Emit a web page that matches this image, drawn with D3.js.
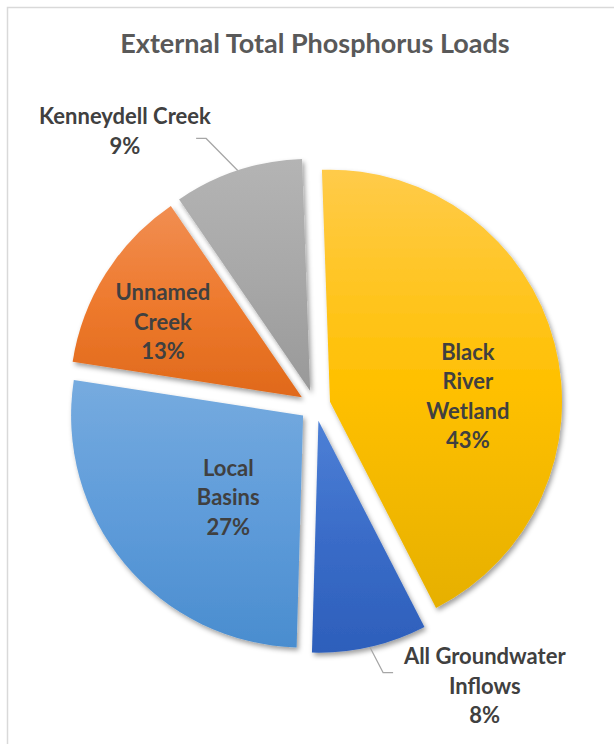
<!DOCTYPE html>
<html>
<head>
<meta charset="utf-8">
<script src="https://cdn.jsdelivr.net/npm/d3@7"></script>
<style>
  html, body { margin: 0; padding: 0; background: #fff; }
  svg { display: block; }
  text { font-family: Lato, "Open Sans", sans-serif; font-weight: 700; }
</style>
</head>
<body>
<svg id="chart" width="614" height="744"></svg>
<script>
// Source categories, clockwise from the top
const categories = ["Black River Wetland", "All Groundwater Inflows", "Local Basins", "Unnamed Creek", "Kenneydell Creek"];
// Share of the external total phosphorus load (%)
const shares = [43, 8, 27, 13, 9];
// Label text, one entry per line (percentage is appended)
const labelLines = [
  ["Black", "River", "Wetland"],
  ["All Groundwater", "Inflows"],
  ["Local", "Basins"],
  ["Unnamed", "Creek"],
  ["Kenneydell Creek"]
];
const title = "External Total Phosphorus Loads";

// Gradient colours (top, middle, bottom) for each slice
const sliceColors = [
  ["#FFCB4A", "#FFC000", "#E6B000"],
  ["#4D80D6", "#3A6CC8", "#2D5FBB"],
  ["#76ABDF", "#5F9CDA", "#4A8DCF"],
  ["#F18E52", "#EE7A2E", "#E0691A"],
  ["#B4B4B4", "#A8A8A8", "#999999"]
];

// Label placement, polar relative to each slice's own centre
// (angle in degrees clockwise from 12 o'clock, radius in px)
const labelPlacement = [
  { angle: 87.8, radius: 138 },
  { angle: 147.9, radius: 313, leader: { angle: 165.6, radius: 260, run: 10 } },
  { angle: 222.4, radius: 111 },
  { angle: 298.4, radius: 158 },
  { angle: 324.5, radius: 319, leader: { angle: 337.6, radius: 273, run: -10 } }
];

const W = 614, H = 744;
const cx = 315, cy = 405.6, R = 232, explode = 15.5;
const lineH = 29.5;
const deg = Math.PI / 180;
const startA = -2 * deg;

const svg = d3.select("#chart");
const defs = svg.append("defs");

// chart area frame
svg.append("rect")
  .attr("x", 7.5).attr("y", 7.5)
  .attr("width", 640).attr("height", 760)
  .attr("fill", "#fff")
  .attr("stroke", "#D9D9D9").attr("stroke-width", 1.5);

const shadow = defs.append("filter").attr("id", "shadow")
  .attr("x", "-10%").attr("y", "-10%").attr("width", "130%").attr("height", "130%");
shadow.append("feDropShadow")
  .attr("dx", 2).attr("dy", 3).attr("stdDeviation", 2.5)
  .attr("flood-color", "#000").attr("flood-opacity", 0.38);

sliceColors.forEach((c, i) => {
  const g = defs.append("linearGradient").attr("id", "grad" + i)
    .attr("x1", 0).attr("y1", 0).attr("x2", 0).attr("y2", 1);
  g.append("stop").attr("offset", "0%").attr("stop-color", c[0]);
  g.append("stop").attr("offset", "50%").attr("stop-color", c[1]);
  g.append("stop").attr("offset", "100%").attr("stop-color", c[2]);
});

// title
svg.append("text")
  .attr("x", 315).attr("y", 53)
  .attr("text-anchor", "middle")
  .attr("fill", "#595959")
  .attr("font-size", 27)
  .text(title);

const data = categories.map((c, i) => ({ name: c, value: shares[i], i }));
const pie = d3.pie().sort(null).value(d => d.value)
  .startAngle(startA).endAngle(startA + 2 * Math.PI);
const arcs = pie(data);
const arc = d3.arc().innerRadius(0).outerRadius(R);

const polar = (a, r) => [Math.sin(a) * r, -Math.cos(a) * r];

const slices = svg.append("g").attr("transform", `translate(${cx},${cy})`);

arcs.forEach(a => {
  const mid = (a.startAngle + a.endAngle) / 2;
  const [ox, oy] = polar(mid, explode);
  a.ox = ox; a.oy = oy; a.mid = mid;
});

slices.selectAll("path.slice")
  .data(arcs)
  .join("path")
  .attr("class", "slice")
  .attr("transform", d => `translate(${d.ox},${d.oy})`)
  .attr("d", arc)
  .attr("fill", d => `url(#grad${d.data.i})`)
  .attr("filter", "url(#shadow)");

// leader lines for outside labels
arcs.forEach(a => {
  const p = labelPlacement[a.data.i];
  if (!p.leader) return;
  const s = polar(a.mid, R);
  const e = polar(p.leader.angle * deg, p.leader.radius);
  const pts = [
    [a.ox + s[0], a.oy + s[1]],
    [a.ox + e[0], a.oy + e[1]],
    [a.ox + e[0] + p.leader.run, a.oy + e[1]]
  ];
  slices.append("path")
    .attr("d", d3.line()(pts))
    .attr("fill", "none")
    .attr("stroke", "#A6A6A6")
    .attr("stroke-width", 1.2);
});

// data labels
arcs.forEach(a => {
  const p = labelPlacement[a.data.i];
  const [lx, ly] = polar(p.angle * deg, p.radius);
  const lines = labelLines[a.data.i].concat([a.data.value + "%"]);
  const x = a.ox + lx, y0 = a.oy + ly - (lines.length - 1) * lineH / 2;
  const t = slices.append("text")
    .attr("text-anchor", "middle")
    .attr("fill", "#404040")
    .attr("font-size", 22);
  lines.forEach((ln, k) => {
    t.append("tspan")
      .attr("x", x)
      .attr("y", y0 + k * lineH)
      .attr("dy", "0.35em")
      .text(ln);
  });
});
</script>
</body>
</html>
